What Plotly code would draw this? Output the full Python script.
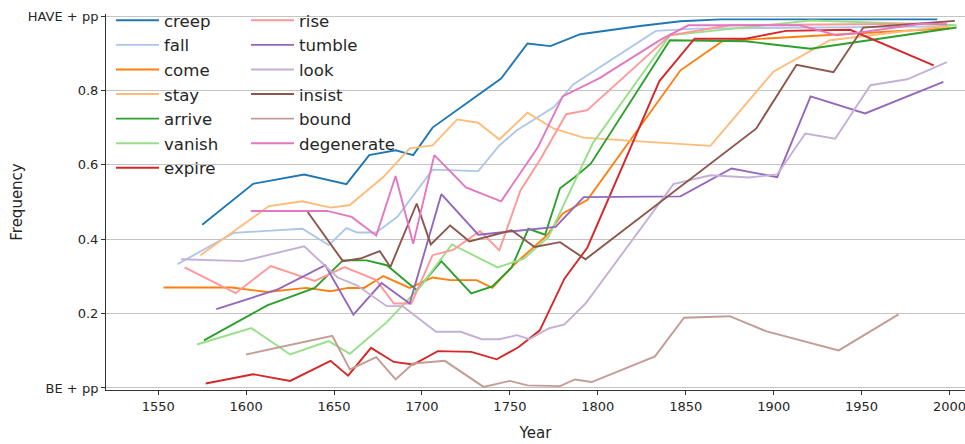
import plotly.graph_objects as go

# ---- data ----
creep_years = [1575, 1604, 1633, 1657, 1670, 1685, 1695, 1706, 1745, 1760, 1773, 1790, 1824, 1847, 1870, 1993]
creep_vals = [0.439, 0.549, 0.574, 0.548, 0.626, 0.639, 0.626, 0.700, 0.832, 0.926, 0.919, 0.951, 0.973, 0.986, 0.991, 0.991]

fall_years = [1561, 1593, 1632, 1647, 1657, 1663, 1674, 1686, 1706, 1732, 1744, 1754, 1775, 1786, 1833, 1856, 1998]
fall_vals = [0.333, 0.417, 0.428, 0.384, 0.430, 0.418, 0.418, 0.460, 0.587, 0.583, 0.652, 0.693, 0.755, 0.816, 0.960, 0.966, 0.972]

come_years = [1553, 1592, 1612, 1634, 1648, 1658, 1667, 1678, 1693, 1706, 1716, 1731, 1740, 1752, 1771, 1780, 1794, 1847, 1871, 1915, 2000]
come_vals = [0.270, 0.270, 0.258, 0.269, 0.260, 0.269, 0.269, 0.301, 0.269, 0.297, 0.290, 0.290, 0.269, 0.330, 0.410, 0.469, 0.505, 0.854, 0.933, 0.945, 0.967]

stay_years = [1574, 1613, 1632, 1648, 1659, 1678, 1693, 1706, 1720, 1732, 1744, 1760, 1775, 1792, 1824, 1864, 1900, 1932, 2002]
stay_vals = [0.357, 0.489, 0.502, 0.485, 0.492, 0.567, 0.644, 0.652, 0.722, 0.713, 0.668, 0.740, 0.697, 0.673, 0.663, 0.651, 0.851, 0.935, 0.975]

arrive_years = [1576, 1612, 1639, 1655, 1668.5, 1680, 1697, 1711, 1728, 1740, 1751, 1760.5, 1770, 1778.5, 1787, 1796, 1841, 1884, 1921, 2004]
arrive_vals = [0.128, 0.222, 0.269, 0.343, 0.343, 0.330, 0.263, 0.341, 0.254, 0.273, 0.324, 0.428, 0.412, 0.537, 0.567, 0.603, 0.935, 0.932, 0.912, 0.969]

vanish_years = [1572, 1603, 1625, 1647, 1659, 1680, 1699, 1717, 1743, 1758, 1772, 1797, 1824, 1841, 1921, 2004]
vanish_vals = [0.117, 0.161, 0.090, 0.126, 0.092, 0.177, 0.272, 0.386, 0.324, 0.348, 0.406, 0.657, 0.836, 0.948, 0.988, 0.975]

expire_years = [1577, 1604, 1625, 1648, 1658, 1671, 1684, 1695, 1709, 1728, 1742.5, 1755, 1767, 1781, 1794, 1835, 1855, 1884, 1907, 1943.5, 1991]
expire_vals = [0.012, 0.037, 0.019, 0.073, 0.033, 0.108, 0.070, 0.063, 0.099, 0.097, 0.077, 0.110, 0.155, 0.294, 0.377, 0.825, 0.939, 0.939, 0.960, 0.963, 0.867]

rise_years = [1565, 1594, 1614, 1639, 1656, 1674, 1684, 1694, 1706, 1718, 1733, 1744, 1756, 1767, 1782, 1794, 1841, 1875, 1998.5]
rise_vals = [0.324, 0.255, 0.328, 0.288, 0.325, 0.290, 0.227, 0.227, 0.357, 0.372, 0.422, 0.370, 0.531, 0.612, 0.736, 0.747, 0.948, 0.975, 0.980]

tumble_years = [1583, 1618, 1645, 1661, 1677, 1693, 1711, 1732, 1776, 1792, 1847, 1876, 1902, 1921, 1952, 1996.5]
tumble_vals = [0.212, 0.265, 0.330, 0.197, 0.282, 0.227, 0.521, 0.412, 0.433, 0.513, 0.515, 0.590, 0.567, 0.784, 0.738, 0.823]

look_years = [1563, 1598, 1633, 1652, 1663, 1680, 1689, 1708, 1722, 1734, 1744, 1754, 1761, 1772, 1781, 1793, 1843, 1864, 1886, 1902, 1918, 1935, 1955, 1976, 1998.5]
look_vals = [0.346, 0.341, 0.381, 0.297, 0.276, 0.220, 0.220, 0.151, 0.151, 0.131, 0.131, 0.142, 0.131, 0.160, 0.171, 0.227, 0.548, 0.572, 0.566, 0.574, 0.684, 0.670, 0.814, 0.830, 0.876]

insist_years = [1635, 1655, 1665, 1676, 1682, 1697, 1705, 1716, 1727, 1751, 1764, 1778.5, 1793, 1890, 1913, 1934, 1951, 2003]
insist_vals = [0.473, 0.341, 0.348, 0.368, 0.325, 0.496, 0.386, 0.437, 0.394, 0.424, 0.379, 0.392, 0.346, 0.697, 0.869, 0.849, 0.969, 0.987]

bound_years = [1600, 1649, 1659, 1674, 1685, 1695, 1713, 1735, 1750, 1760, 1778.5, 1787, 1796.5, 1832.5, 1849, 1875, 1896, 1937, 1971]
bound_vals = [0.090, 0.140, 0.050, 0.083, 0.023, 0.066, 0.073, 0.003, 0.019, 0.007, 0.005, 0.023, 0.016, 0.085, 0.189, 0.193, 0.152, 0.101, 0.198]

degenerate_years = [1602.6, 1646, 1660, 1674, 1685, 1695, 1707, 1725, 1745, 1766, 1780, 1801, 1836, 1851.5, 1915, 1936, 1951, 1985, 1998.5]
degenerate_vals = [0.476, 0.476, 0.460, 0.410, 0.570, 0.388, 0.626, 0.539, 0.502, 0.648, 0.784, 0.833, 0.937, 0.975, 0.975, 0.948, 0.957, 0.980, 0.977]

y_tick_vals = [0, 0.2, 0.4, 0.6, 0.8, 1.0]
y_tick_text = ["BE + pp", "0.2", "0.4", "0.6", "0.8", "HAVE + pp"]
x_tick_vals = [1550, 1600, 1650, 1700, 1750, 1800, 1850, 1900, 1950, 2000]

series = [
    ("creep", creep_years, creep_vals, "#1f77b4"),
    ("fall", fall_years, fall_vals, "#aec7e8"),
    ("come", come_years, come_vals, "#ff7f0e"),
    ("stay", stay_years, stay_vals, "#ffbb78"),
    ("arrive", arrive_years, arrive_vals, "#2ca02c"),
    ("vanish", vanish_years, vanish_vals, "#98df8a"),
    ("expire", expire_years, expire_vals, "#d62728"),
    ("rise", rise_years, rise_vals, "#ff9896"),
    ("tumble", tumble_years, tumble_vals, "#9467bd"),
    ("look", look_years, look_vals, "#c5b0d5"),
    ("insist", insist_years, insist_vals, "#8c564b"),
    ("bound", bound_years, bound_vals, "#c49c94"),
    ("degenerate", degenerate_years, degenerate_vals, "#e377c2"),
]

fig = go.Figure()
for i, (name, xs, ys, col) in enumerate(series):
    fig.add_trace(go.Scatter(
        x=xs, y=ys, mode="lines", name=name,
        line=dict(color=col, width=1.9),
        legend="legend" if i < 7 else "legend2",
    ))

W, H = 965, 444
L, R, T, B = 106, 0, 14, 54
pw = W - L - R
ph = H - T - B

def px_x(p):
    return (p - L) / pw

def px_y(p):
    return 1 - (p - T) / ph

legend_common = dict(
    xanchor="left", yanchor="top", bgcolor="rgba(0,0,0,0)",
    font=dict(size=16.6, family="DejaVu Sans", color="#262626"),
    tracegroupgap=0, itemwidth=43,
)

fig.update_layout(
    width=W, height=H,
    margin=dict(l=L, r=R, t=T, b=B),
    plot_bgcolor="white", paper_bgcolor="white",
    font=dict(family="DejaVu Sans", color="#262626", size=13),
    showlegend=True,
    legend=dict(x=px_x(111), y=px_y(3), **legend_common),
    legend2=dict(x=px_x(246), y=px_y(3), **legend_common),
    xaxis=dict(
        range=[1520.3, 2008.8], tickvals=x_tick_vals,
        showline=True, linecolor="#333333", linewidth=1,
        ticks="outside", ticklen=4, tickcolor="#333333",
        showgrid=False, zeroline=False, ticklabeloverflow="allow",
        tickfont=dict(size=13, color="#262626"),
        title=dict(text="Year", font=dict(size=15, color="#262626"), standoff=14),
    ),
    yaxis=dict(
        range=[-0.0054, 1.0054], tickvals=y_tick_vals, ticktext=y_tick_text,
        showline=True, linecolor="#333333", linewidth=1,
        ticks="outside", ticklen=4, tickcolor="#333333",
        showgrid=True, gridcolor="#c4c4c4", gridwidth=1, zeroline=False,
        tickfont=dict(size=13, color="#262626"),
        title=dict(text="Frequency", font=dict(size=15, color="#262626"), standoff=1),
    ),
)

fig.write_html(
    "out.html",
    config={"displayModeBar": False},
    post_script="document.body.style.margin='0';document.body.style.padding='0';",
)
